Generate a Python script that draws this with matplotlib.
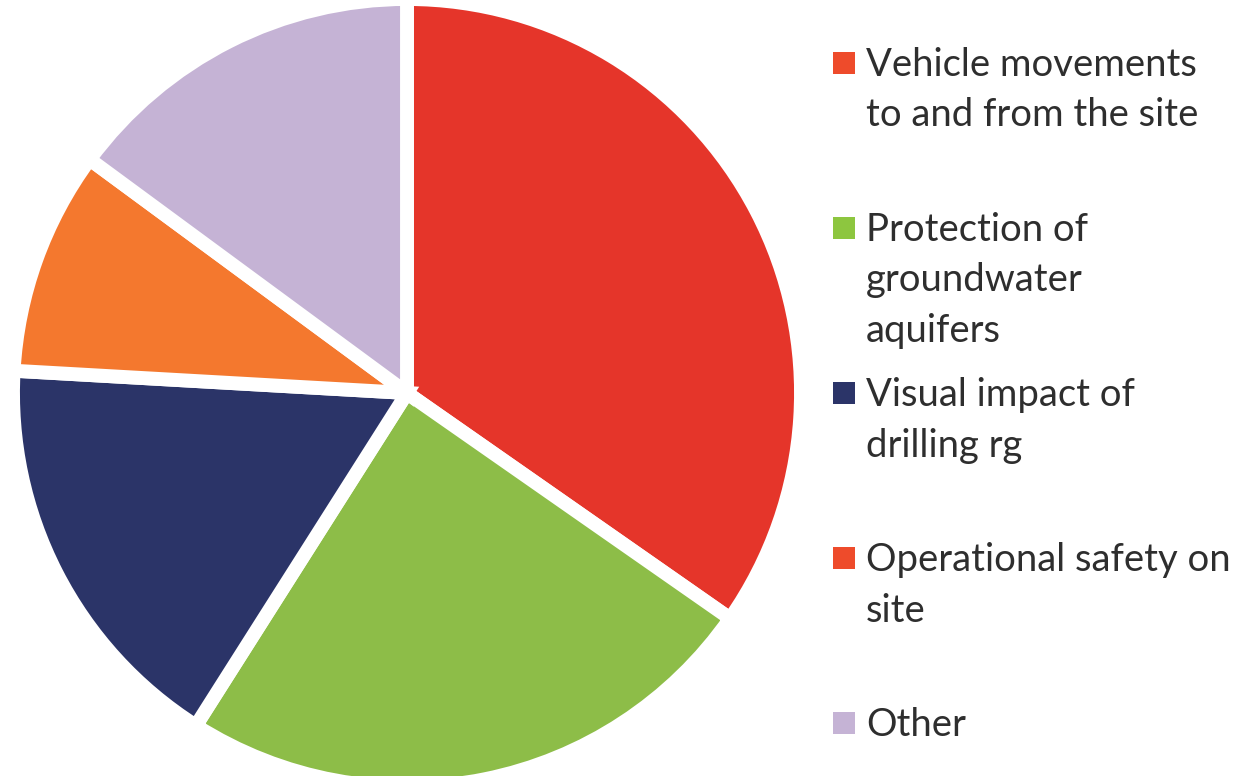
import matplotlib.pyplot as plt
from matplotlib.patches import Rectangle

# Share of concerns (percent)
labels = ["Vehicle movements\nto and from the site",
          "Protection of\ngroundwater\naquifers",
          "Visual impact of\ndrilling rg",
          "Operational safety on\nsite",
          "Other"]
values = [34.7, 24.3, 16.9, 9.2, 14.9]
colors = ["#E5352A", "#8DBD48", "#2B3468", "#F4782E", "#C5B3D5"]
marker_colors = ["#EE4B2B", "#8DC63F", "#2B3468", "#EE4B2B", "#C5B3D5"]

W, H = 1240, 776
fig = plt.figure(figsize=(W / 100, H / 100), dpi=100)
fig.patch.set_facecolor("white")

# pie axes placed in pixel coordinates
cx, cy, R = 407, 393, 394
ax = fig.add_axes([(cx - R) / W, (H - cy - R) / H, 2 * R / W, 2 * R / H])
ax.pie(values, colors=colors, startangle=90, counterclock=False,
       radius=1, wedgeprops=dict(edgecolor="white", linewidth=10))
ax.set_xlim(-1, 1)
ax.set_ylim(-1, 1)
ax.set_aspect("equal")
ax.axis("off")

# legend drawn by hand so the square sits on the first line of each label
top0 = 63
step = 165
for i, (lab, col) in enumerate(zip(labels, marker_colors)):
    y = top0 + i * step
    fig.patches.append(Rectangle((833 / W, (H - y - 11) / H), 22 / W, 22 / H,
                                 transform=fig.transFigure, facecolor=col,
                                 edgecolor="none"))
    fig.text(866 / W, (H - y + 16) / H, lab, fontsize=27.5, family="Lato",
             color="#2E2E2E", va="top", ha="left", linespacing=1.5)

fig.savefig("out.png", dpi=100)
